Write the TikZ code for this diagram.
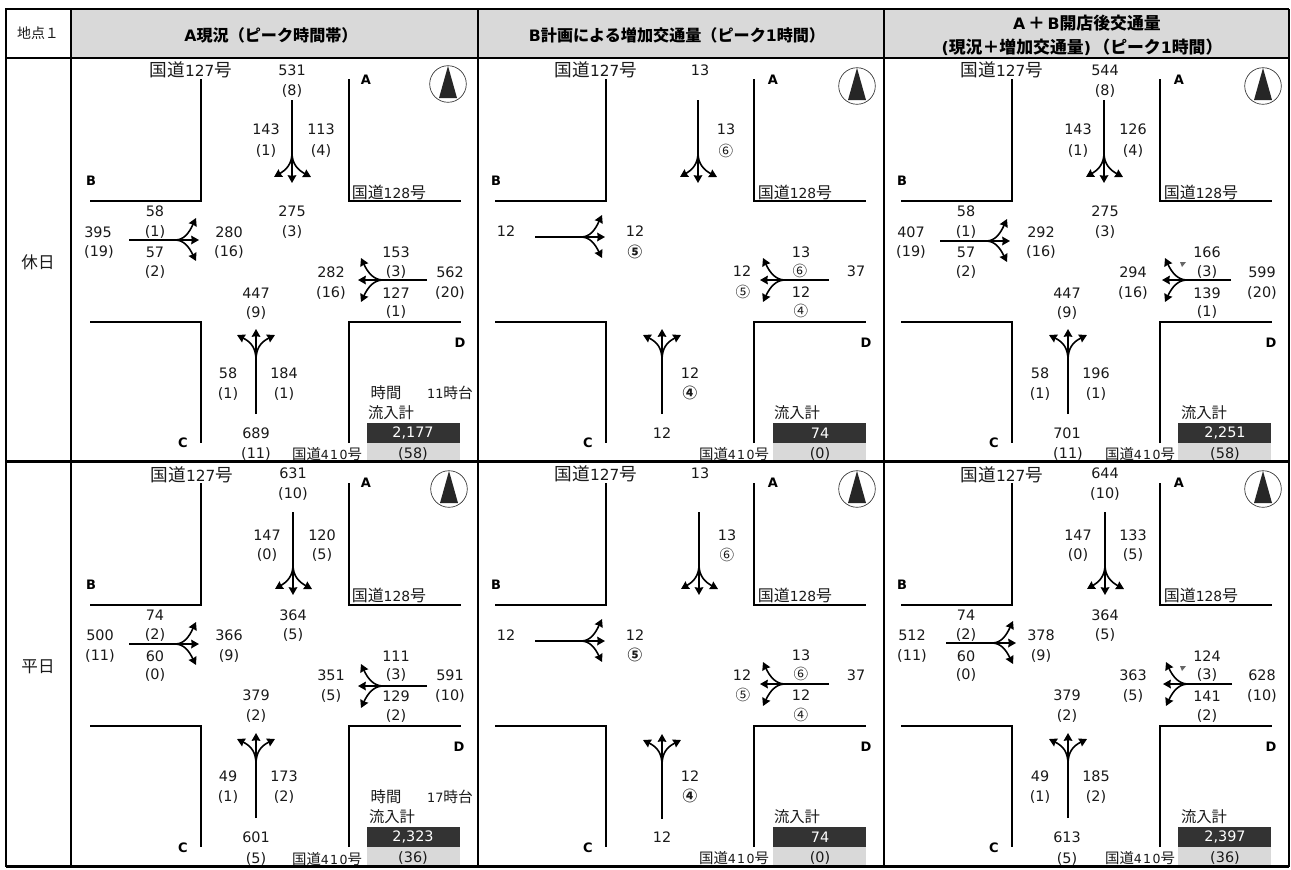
\documentclass[tikz,border=0pt]{standalone}
\usepackage{fontspec}
\setmainfont{DejaVu Sans}
\newfontfamily\cjk[Scale=1.15]{Noto Sans CJK JP}
\usepackage{xcolor}
\usepackage{tikz}
\usetikzlibrary{arrows.meta,positioning}
\definecolor{cHead}{HTML}{D9D9D9}
\definecolor{cDark}{HTML}{333333}
\definecolor{cText}{HTML}{1A1A1A}
\newcommand{\fs}[1]{\fontsize{#1}{#1}\selectfont}
\newcommand{\kokudo}[1]{{\cjk 国道}#1{\cjk 号}}
\newcommand{\hl}[1]{{\fs{11.8}#1}}
\tikzset{
  x=0.75pt, y=-0.75pt,
  num/.style={font=\fs{10.8}, text=cText, inner sep=0pt},
  circ/.style={font=\fs{9.5}\cjk, text=cText, inner sep=0pt},
  circb/.style={circ, font=\fs{9.5}\cjk\bfseries},
  heading/.style={font=\fs{10.5}\bfseries, text=black, inner sep=0pt, align=center},
  headwide/.style={heading, font=\fs{11}\bfseries},
  rowlbl/.style={font=\fs{10.8}\cjk, text=cText, inner sep=0pt},
  arm/.style={font=\fs{9.75}\bfseries, text=black, inner sep=0pt},
  road/.style={line width=1.5pt, black},
  roadA/.style={font=\fs{11.5}, text=cText, inner sep=0pt},
  roadB/.style={font=\fs{10.4}, text=cText, inner sep=0pt},
  roadC/.style={font=\fs{9.4}, text=cText, inner sep=0pt},
  lab/.style={font=\fs{10}\cjk, text=cText, inner sep=0pt},
  flow/.style={line width=1.2pt, black},
  arr/.style={flow, -{Stealth[length=5.8pt,width=6.4pt,inset=0.4pt]}},
  tableb/.style={line width=1.9pt, black},
  tablec/.style={line width=1.2pt, black}
}
% flow arrows, (x,y) is the tail of the shaft
\newcommand{\flowN}[2]{%
  \draw[arr] (#1,#2) -- (#1,#2+83);
  \draw[arr] (#1,#2+53) .. controls (#1,#2+64) and (#1-6,#2+70) .. (#1-18,#2+77);
  \draw[arr] (#1,#2+53) .. controls (#1,#2+64) and (#1+6,#2+70) .. (#1+19,#2+77);
}
\newcommand{\flowS}[2]{%
  \draw[arr] (#1,#2) -- (#1,#2-85);
  \draw[arr] (#1,#2-54) .. controls (#1,#2-66) and (#1-5,#2-72) .. (#1-19,#2-79);
  \draw[arr] (#1,#2-54) .. controls (#1,#2-66) and (#1+5,#2-72) .. (#1+19,#2-79);
}
\newcommand{\flowW}[2]{%
  \draw[arr] (#1,#2) -- (#1+70,#2);
  \draw[arr] (#1+46,#2) .. controls (#1+55,#2) and (#1+60,#2-7) .. (#1+67,#2-22);
  \draw[arr] (#1+46,#2) .. controls (#1+55,#2) and (#1+60,#2+7) .. (#1+67,#2+21);
}
\newcommand{\flowE}[2]{%
  \draw[arr] (#1,#2) -- (#1-69,#2);
  \draw[arr] (#1-44,#2) .. controls (#1-53,#2) and (#1-59,#2-7) .. (#1-66,#2-22);
  \draw[arr] (#1-44,#2) .. controls (#1-53,#2) and (#1-59,#2+7) .. (#1-66,#2+22);
}
\newcommand{\roads}[2]{%
  \draw[road] (#1+90,#2+201) -- (#1+201,#2+201) -- (#1+201,#2+79);
  \draw[road] (#1+349,#2+79) -- (#1+349,#2+201) -- (#1+461,#2+201);
  \draw[road] (#1+90,#2+322) -- (#1+201,#2+322) -- (#1+201,#2+443);
  \draw[road] (#1+349,#2+443) -- (#1+349,#2+322) -- (#1+461,#2+322);
}
\newcommand{\northmark}[2]{%
  \draw[line width=0.5pt, black!80] (#1,#2) circle (18.3);
  \fill[black!85] (#1,#2-18) -- (#1+9,#2+14) -- (#1-9,#2+14) -- cycle;
}
\newcommand{\statbox}[2]{%
  \fill[cDark] (#1,#2) rectangle (#1+93,#2+20);
  \fill[cHead] (#1,#2+20) rectangle (#1+93,#2+38);
}
\begin{document}
\begin{tikzpicture}
\useasboundingbox (0,0) rectangle (1291,869);
\fill[white] (0,0) rectangle (1291,869);
% header band
\fill[cHead] (71,9) rectangle (1289,58);
\node[font=\fs{9.1}\cjk, text=cText, inner sep=0pt] (hPoint) at (38,33) {地点１};
\node[heading] (hA) at (271,35) {\hl{A}{\cjk 現況（ピーク時間帯）}};
\node[heading] (hB) at (677,35) {\hl{B}{\cjk 計画による増加交通量（ピーク}\hl{1}{\cjk 時間）}};
\node[headwide] (hC) at (1087,23) {\hl{A}\hspace{2pt}{\cjk ＋}\hspace{2pt}\hl{B}{\cjk 開店後交通量}};
\node[headwide] (hD) at (1082,47) {\hl{(}{\cjk 現況＋増加交通量}\hl{)}\,{\cjk （ピーク}\hl{1}{\cjk 時間）}};
\node[rowlbl] (rHoliday) at (38,262) {休日};
\node[rowlbl] (rWeekday) at (38,667) {平日};
% stat boxes go under the road lines
\statbox{367}{423} \statbox{773}{423} \statbox{1178}{423}
\statbox{367}{827} \statbox{773}{827} \statbox{1178}{827}
% roads and north marks
\foreach \dx in {0,405,811} {
  \roads{\dx}{0}
  \roads{\dx}{404}
}
\northmark{448}{84} \northmark{857}{86} \northmark{1263}{86}
\northmark{449}{489} \northmark{857}{489} \northmark{1263}{489}
% flows, upper row
\flowN{292}{100} \flowW{129}{240} \flowE{427}{280} \flowS{256}{414}
\flowN{698}{100} \flowW{535}{237} \flowE{829}{280} \flowS{662}{414}
\flowN{1104}{100} \flowW{940}{241} \flowE{1231}{280} \flowS{1068}{414}
% flows, lower row
\flowN{293}{512} \flowW{129}{644} \flowE{427}{686} \flowS{256}{818}
\flowN{699}{512} \flowW{535}{641} \flowE{829}{684} \flowS{662}{819}
\flowN{1105}{512} \flowW{946}{643} \flowE{1232}{684} \flowS{1068}{818}
% small grey marks
\fill[black!60] (1180,262) -- (1186,262) -- (1182,267) -- cycle;
\fill[black!60] (1180,666) -- (1186,666) -- (1182,671) -- cycle;
% arm letters
\foreach \tx/\ty/\tl [count=\k] in {
  366/80/A,91/181/B,183/443/C,460/343/D,
  773/80/A,496/181/B,588/443/C,866/343/D,
  1179/80/A,902/181/B,994/443/C,1271/343/D,
  366/483/A,91/585/B,183/848/C,459/747/D,
  773/483/A,496/585/B,588/848/C,866/747/D,
  1179/483/A,902/585/B,994/848/C,1271/747/D} {
  \node[arm] (arm\k) at (\tx,\ty) {\tl};
}
% road names
\foreach \tx/\ty [count=\k] in {191/70,596/70,1002/70,192/475,596/474,1002/475} {
  \node[roadA] (rdA\k) at (\tx,\ty) {\kokudo{127}};
}
\foreach \tx/\ty [count=\k] in {389/192,795/192,1201/192,389/595,795/595,1201/595} {
  \node[roadB] (rdB\k) at (\tx,\ty) {\kokudo{128}};
}
\foreach \tx/\ty [count=\k] in {327/454,734/454,1140/454,327/859,734/858,1140/858} {
  \node[roadC] (rdC\k) at (\tx,\ty) {\kokudo{4\kern1pt 1\kern1pt 0}};
}
% holiday, current
\foreach \tx/\ty/\tl [count=\k] in {
  292/70/531,292/91/(8),266/129/143,266/151/(1),321/129/113,321/151/(4),
  292/211/275,292/232/(3),155/211/58,155/232/(1),98/232/395,99/252/(19),
  229/232/280,229/252/(16),155/252/57,155/272/(2),396/252/153,396/272/(3),
  331/272/282,331/293/(16),450/272/562,450/293/(20),396/293/127,396/312/(1),
  256/293/447,256/313/(9),228/373/58,228/394/(1),284/373/184,284/394/(1),
  256/433/689,256/454/(11)} {
  \node[num] (a\k) at (\tx,\ty) {\tl};
}
% holiday, added
\foreach \tx/\ty/\tl [count=\k] in {
  700/70/13,726/129/13,506/231/12,635/231/12,801/252/13,742/271/12,
  856/271/37,801/292/12,690/373/12,662/433/12} {
  \node[num] (b\k) at (\tx,\ty) {\tl};
}
% holiday, after opening
\foreach \tx/\ty/\tl [count=\k] in {
  1105/70/544,1105/91/(8),1078/129/143,1078/151/(1),1133/129/126,1133/151/(4),
  966/211/58,966/232/(1),1105/211/275,1105/232/(3),911/232/407,911/252/(19),
  1041/232/292,1041/252/(16),966/252/57,966/272/(2),1207/252/166,1207/272/(3),
  1133/272/294,1133/293/(16),1262/272/599,1262/293/(20),1207/293/139,1207/312/(1),
  1067/293/447,1067/313/(9),1040/373/58,1040/394/(1),1096/373/196,1096/394/(1),
  1067/433/701,1068/454/(11)} {
  \node[num] (c\k) at (\tx,\ty) {\tl};
}
% weekday, current
\foreach \tx/\ty/\tl [count=\k] in {
  293/473/631,293/494/(10),267/535/147,267/555/(0),322/535/120,322/555/(5),
  155/615/74,155/635/(2),293/615/364,293/635/(5),100/635/500,100/656/(11),
  229/635/366,229/656/(9),155/656/60,155/675/(0),396/656/111,396/675/(3),
  331/675/351,331/696/(5),450/675/591,450/696/(10),396/696/129,396/716/(2),
  256/695/379,256/716/(2),228/776/49,228/797/(1),284/776/173,284/797/(2),
  256/837/601,256/859/(5)} {
  \node[num] (d\k) at (\tx,\ty) {\tl};
}
% weekday, added
\foreach \tx/\ty/\tl [count=\k] in {
  700/473/13,727/535/13,506/635/12,635/635/12,801/655/13,742/675/12,
  856/675/37,801/695/12,690/776/12,662/837/12} {
  \node[num] (e\k) at (\tx,\ty) {\tl};
}
% weekday, after opening
\foreach \tx/\ty/\tl [count=\k] in {
  1105/473/644,1105/494/(10),1078/535/147,1078/555/(0),1133/535/133,1133/555/(5),
  966/615/74,966/635/(2),1105/615/364,1105/635/(5),912/635/512,912/656/(11),
  1041/635/378,1041/656/(9),966/656/60,966/675/(0),1207/656/124,1207/675/(3),
  1133/675/363,1133/696/(5),1262/675/628,1262/696/(10),1207/696/141,1207/716/(2),
  1067/695/379,1067/716/(2),1040/776/49,1040/797/(1),1096/776/185,1096/797/(2),
  1067/837/613,1067/859/(5)} {
  \node[num] (f\k) at (\tx,\ty) {\tl};
}
% circled trip numbers
\foreach \tx/\ty/\tl [count=\k] in {
  726/151/⑥,800/271/⑥,743/292/⑤,801/311/④,
  727/555/⑥,801/674/⑥,743/695/⑤,801/715/④} {
  \node[circ] (g\k) at (\tx,\ty) {\tl};
}
\foreach \tx/\ty/\tl [count=\k] in {635/252/⑤,690/393/④,635/655/⑤,690/796/④} {
  \node[circb] (h\k) at (\tx,\ty) {\tl};
}
% totals
\foreach \tx/\ty/\tl/\tm [count=\k] in {
  413/423/{2,177}/(58),820/423/74/(0),1225/423/{2,251}/(58),
  413/827/{2,323}/(36),820/827/74/(0),1225/827/{2,397}/(36)} {
  \node[num, text=white] (tot\k) at (\tx,\ty+10) {\tl};
  \node[num] (sub\k) at (\tx,\ty+31) {\tm};
}
\foreach \tx/\ty [count=\k] in {391/413,797/413,1204/413,392/817,797/817,1204/817} {
  \node[lab] (inflow\k) at (\tx,\ty) {流入計};
}
\node[lab] (timeA) at (386,393) {時間};
\node[lab] (timeB) at (386,797) {時間};
\node[font=\fs{9.6}, text=cText, inner sep=0pt] (hourA) at (450,393) {11{\cjk 時台}};
\node[font=\fs{9.6}, text=cText, inner sep=0pt] (hourB) at (450,797) {17{\cjk 時台}};
% table rules on top
\draw[tableb] (6,9) rectangle (71,58);
\draw[tableb] (6,9) -- (1289,9);
\draw[tableb] (6,58) -- (1289,58);
\draw[tableb] (6,461.5) -- (1289,461.5);
\draw[tableb] (6,866.5) -- (1289,866.5);
\draw[tableb] (6,9) -- (6,866.5);
\draw[tableb] (71,9) -- (71,866.5);
\foreach \vx in {478,884} {
  \draw[tablec] (\vx,9) -- (\vx,866.5);
}
\draw[tablec] (1289,9) -- (1289,866.5);
\end{tikzpicture}
\end{document}
